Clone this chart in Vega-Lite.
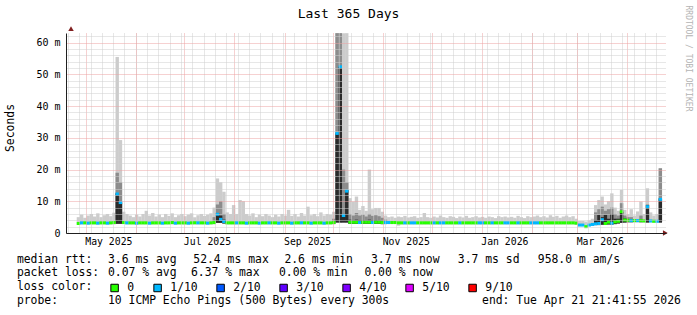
{
"$schema": "https://vega.github.io/schema/vega-lite/v6.json",
"width": 600, "height": 200,
"autosize": {"type": "none"},
"padding": {"left": 66, "top": 33, "right": 31, "bottom": 82},
"background": "white",
"config": {"view": {"stroke": null}, "font": "DejaVu Sans Mono"},
"data": {"values": [
{"t":"2025-04-26T12:00:00Z","lo":2.6,"p1":5.0,"med":3.0,"loss":"0"},
{"t":"2025-04-28T12:00:00Z","lo":2.7,"p1":5.8,"med":3.2,"loss":"1/10"},
{"t":"2025-04-30T12:00:00Z","lo":2.7,"p1":4.8,"med":3.2,"loss":"0"},
{"t":"2025-05-02T12:00:00Z","lo":2.7,"p1":5.5,"med":3.1,"loss":"1/10"},
{"t":"2025-05-04T12:00:00Z","lo":2.7,"p1":6.0,"med":3.2,"loss":"0"},
{"t":"2025-05-06T12:00:00Z","lo":2.7,"p1":5.2,"med":3.2,"loss":"0"},
{"t":"2025-05-08T12:00:00Z","lo":2.7,"p1":6.2,"med":3.1,"loss":"1/10"},
{"t":"2025-05-10T12:00:00Z","lo":2.7,"p1":5.0,"med":3.2,"loss":"0"},
{"t":"2025-05-12T12:00:00Z","lo":2.7,"p1":5.6,"med":3.2,"loss":"0"},
{"t":"2025-05-14T12:00:00Z","lo":2.7,"p1":6.0,"med":3.1,"loss":"1/10"},
{"t":"2025-05-16T12:00:00Z","lo":2.7,"p1":5.3,"med":3.2,"loss":"0"},
{"t":"2025-05-18T12:00:00Z","lo":2.7,"p1":6.4,"med":3.3,"loss":"0"},
{"t":"2025-05-20T12:00:00Z","lo":2.9,"p1":55.5,"p2":19,"p3":12.5,"med":12.3,"loss":"1/10"},
{"t":"2025-05-22T12:00:00Z","lo":2.9,"p1":29.3,"p2":16,"p3":9.6,"med":9.6,"loss":"1/10"},
{"t":"2025-05-24T12:00:00Z","lo":2.8,"p1":6.7,"med":3.3,"loss":"0"},
{"t":"2025-05-26T12:00:00Z","lo":2.7,"p1":6.0,"med":3.2,"loss":"1/10"},
{"t":"2025-05-28T12:00:00Z","lo":2.7,"p1":5.5,"med":3.2,"loss":"0"},
{"t":"2025-05-30T12:00:00Z","lo":2.7,"p1":5.0,"med":3.2,"loss":"0"},
{"t":"2025-06-01T12:00:00Z","lo":2.7,"p1":5.8,"med":3.1,"loss":"1/10"},
{"t":"2025-06-03T12:00:00Z","lo":2.7,"p1":5.2,"med":3.2,"loss":"0"},
{"t":"2025-06-05T12:00:00Z","lo":2.7,"p1":6.0,"med":3.2,"loss":"0"},
{"t":"2025-06-07T12:00:00Z","lo":2.7,"p1":7.0,"med":3.2,"loss":"0"},
{"t":"2025-06-09T12:00:00Z","lo":2.7,"p1":5.5,"med":3.1,"loss":"1/10"},
{"t":"2025-06-11T12:00:00Z","lo":2.7,"p1":6.3,"med":3.2,"loss":"0"},
{"t":"2025-06-13T12:00:00Z","lo":2.7,"p1":5.2,"med":3.2,"loss":"0"},
{"t":"2025-06-15T12:00:00Z","lo":2.7,"p1":5.8,"med":3.2,"loss":"0"},
{"t":"2025-06-17T12:00:00Z","lo":2.7,"p1":5.0,"med":3.1,"loss":"1/10"},
{"t":"2025-06-19T12:00:00Z","lo":2.7,"p1":6.0,"med":3.2,"loss":"0"},
{"t":"2025-06-21T12:00:00Z","lo":2.7,"p1":5.4,"med":3.2,"loss":"0"},
{"t":"2025-06-23T12:00:00Z","lo":2.7,"p1":6.2,"med":3.3,"loss":"0"},
{"t":"2025-06-25T12:00:00Z","lo":2.7,"p1":5.0,"med":3.1,"loss":"1/10"},
{"t":"2025-06-27T12:00:00Z","lo":2.7,"p1":5.6,"med":3.2,"loss":"0"},
{"t":"2025-06-29T12:00:00Z","lo":2.7,"p1":6.0,"med":3.2,"loss":"0"},
{"t":"2025-07-01T12:00:00Z","lo":2.7,"p1":5.3,"med":3.2,"loss":"0"},
{"t":"2025-07-03T12:00:00Z","lo":2.7,"p1":5.8,"med":3.1,"loss":"1/10"},
{"t":"2025-07-05T12:00:00Z","lo":2.7,"p1":6.2,"med":3.2,"loss":"0"},
{"t":"2025-07-07T12:00:00Z","lo":2.7,"p1":5.0,"med":3.2,"loss":"0"},
{"t":"2025-07-09T12:00:00Z","lo":2.7,"p1":5.6,"med":3.2,"loss":"1/10"},
{"t":"2025-07-11T12:00:00Z","lo":2.7,"p1":6.0,"med":3.2,"loss":"0"},
{"t":"2025-07-13T12:00:00Z","lo":2.7,"p1":5.4,"med":3.2,"loss":"0"},
{"t":"2025-07-15T12:00:00Z","lo":2.7,"p1":5.8,"med":3.1,"loss":"1/10"},
{"t":"2025-07-17T12:00:00Z","lo":2.7,"p1":6.2,"med":3.2,"loss":"0"},
{"t":"2025-07-19T12:00:00Z","lo":2.8,"p1":8.0,"p2":5.0,"med":3.3,"loss":"0"},
{"t":"2025-07-21T12:00:00Z","lo":3.2,"p1":17.2,"p2":9.0,"p3":6.3,"med":5.9,"loss":"1/10"},
{"t":"2025-07-23T12:00:00Z","lo":3.2,"p1":16.0,"p2":10.0,"p3":5.5,"med":4.3,"loss":"1/10"},
{"t":"2025-07-25T12:00:00Z","lo":3.0,"p1":13.0,"p2":6.0,"p3":4.2,"med":3.6,"loss":"1/10"},
{"t":"2025-07-27T12:00:00Z","lo":2.7,"p1":6.5,"med":3.2,"loss":"0"},
{"t":"2025-07-29T12:00:00Z","lo":2.7,"p1":6.0,"med":3.2,"loss":"0"},
{"t":"2025-07-31T12:00:00Z","lo":2.7,"p1":8.8,"med":3.2,"loss":"0"},
{"t":"2025-08-02T12:00:00Z","lo":2.7,"p1":6.0,"med":3.2,"loss":"1/10"},
{"t":"2025-08-04T12:00:00Z","lo":2.7,"p1":10.4,"med":3.2,"loss":"0"},
{"t":"2025-08-06T12:00:00Z","lo":2.7,"p1":10.0,"med":3.2,"loss":"0"},
{"t":"2025-08-08T12:00:00Z","lo":2.7,"p1":6.0,"med":3.1,"loss":"1/10"},
{"t":"2025-08-10T12:00:00Z","lo":2.7,"p1":5.5,"med":3.2,"loss":"0"},
{"t":"2025-08-12T12:00:00Z","lo":2.7,"p1":6.2,"med":3.2,"loss":"0"},
{"t":"2025-08-14T12:00:00Z","lo":2.7,"p1":5.0,"med":3.2,"loss":"0"},
{"t":"2025-08-16T12:00:00Z","lo":2.7,"p1":5.8,"med":3.1,"loss":"1/10"},
{"t":"2025-08-18T12:00:00Z","lo":2.7,"p1":5.3,"med":3.2,"loss":"0"},
{"t":"2025-08-20T12:00:00Z","lo":2.7,"p1":6.0,"med":3.2,"loss":"0"},
{"t":"2025-08-22T12:00:00Z","lo":2.7,"p1":5.5,"med":3.2,"loss":"1/10"},
{"t":"2025-08-24T12:00:00Z","lo":2.7,"p1":5.0,"med":3.2,"loss":"0"},
{"t":"2025-08-26T12:00:00Z","lo":2.7,"p1":5.8,"med":3.2,"loss":"0"},
{"t":"2025-08-28T12:00:00Z","lo":2.7,"p1":5.2,"med":3.1,"loss":"1/10"},
{"t":"2025-08-30T12:00:00Z","lo":2.7,"p1":6.0,"med":3.2,"loss":"0"},
{"t":"2025-09-01T12:00:00Z","lo":2.7,"p1":5.5,"med":3.2,"loss":"0"},
{"t":"2025-09-03T12:00:00Z","lo":2.7,"p1":7.3,"med":3.2,"loss":"0"},
{"t":"2025-09-05T12:00:00Z","lo":2.7,"p1":5.4,"med":3.1,"loss":"1/10"},
{"t":"2025-09-07T12:00:00Z","lo":2.7,"p1":6.0,"med":3.2,"loss":"0"},
{"t":"2025-09-09T12:00:00Z","lo":2.7,"p1":5.2,"med":3.2,"loss":"0"},
{"t":"2025-09-11T12:00:00Z","lo":2.7,"p1":6.3,"med":3.2,"loss":"1/10"},
{"t":"2025-09-13T12:00:00Z","lo":2.7,"p1":5.5,"med":3.2,"loss":"0"},
{"t":"2025-09-15T12:00:00Z","lo":2.7,"p1":8.3,"med":3.2,"loss":"0"},
{"t":"2025-09-17T12:00:00Z","lo":2.7,"p1":5.6,"med":3.1,"loss":"1/10"},
{"t":"2025-09-19T12:00:00Z","lo":2.7,"p1":6.0,"med":3.2,"loss":"0"},
{"t":"2025-09-21T12:00:00Z","lo":2.7,"p1":5.3,"med":3.2,"loss":"0"},
{"t":"2025-09-23T12:00:00Z","lo":2.7,"p1":6.5,"med":3.2,"loss":"0"},
{"t":"2025-09-25T12:00:00Z","lo":2.7,"p1":5.5,"med":3.1,"loss":"1/10"},
{"t":"2025-09-27T12:00:00Z","lo":2.7,"p1":6.0,"med":3.2,"loss":"0"},
{"t":"2025-09-29T12:00:00Z","lo":2.7,"p1":5.8,"med":3.2,"loss":"0"},
{"t":"2025-10-01T12:00:00Z","lo":2.8,"p1":6.7,"p2":4.5,"med":3.3,"loss":"0"},
{"t":"2025-10-03T12:00:00Z","lo":3.3,"p1":63,"p2":63,"p3":31.4,"med":31.4,"loss":"1/10"},
{"t":"2025-10-05T12:00:00Z","lo":3.3,"p1":63,"p2":63,"p3":52.4,"med":52.4,"loss":"1/10"},
{"t":"2025-10-07T12:00:00Z","lo":3.3,"p1":63,"p2":20,"p3":6.0,"med":5.5,"loss":"1/10"},
{"t":"2025-10-09T12:00:00Z","lo":3.3,"p1":63,"p2":16,"p3":13.5,"med":13.2,"loss":"1/10"},
{"t":"2025-10-11T12:00:00Z","lo":2.9,"p1":11.0,"p2":6.0,"p3":4.2,"med":3.4,"loss":"0"},
{"t":"2025-10-13T12:00:00Z","lo":2.9,"p1":9.9,"p2":5.5,"p3":4.0,"med":3.4,"loss":"0"},
{"t":"2025-10-15T12:00:00Z","lo":2.9,"p1":11.5,"p2":6.3,"p3":4.2,"med":3.4,"loss":"0"},
{"t":"2025-10-17T12:00:00Z","lo":2.9,"p1":7.3,"p2":5.5,"p3":4.0,"med":3.3,"loss":"1/10"},
{"t":"2025-10-19T12:00:00Z","lo":2.9,"p1":8.5,"p2":5.8,"p3":4.1,"med":3.4,"loss":"0"},
{"t":"2025-10-21T12:00:00Z","lo":2.9,"p1":7.0,"p2":5.2,"p3":4.0,"med":3.4,"loss":"0"},
{"t":"2025-10-23T12:00:00Z","lo":2.9,"p1":20.0,"p2":6.0,"p3":4.2,"med":3.4,"loss":"0"},
{"t":"2025-10-25T12:00:00Z","lo":2.9,"p1":7.5,"p2":5.4,"p3":4.0,"med":3.3,"loss":"1/10"},
{"t":"2025-10-27T12:00:00Z","lo":2.9,"p1":7.9,"p2":5.6,"p3":4.1,"med":3.4,"loss":"0"},
{"t":"2025-10-29T12:00:00Z","lo":2.9,"p1":7.9,"p2":5.3,"p3":4.0,"med":3.4,"loss":"0"},
{"t":"2025-10-31T12:00:00Z","lo":2.8,"p1":6.7,"p2":4.8,"p3":3.9,"med":3.3,"loss":"0"},
{"t":"2025-11-02T12:00:00Z","lo":2.8,"p1":5.5,"p2":4.2,"med":3.3,"loss":"1/10"},
{"t":"2025-11-04T12:00:00Z","lo":2.8,"p1":5.0,"med":3.3,"loss":"1/10"},
{"t":"2025-11-06T12:00:00Z","lo":2.8,"p1":5.2,"med":3.3,"loss":"0"},
{"t":"2025-11-08T12:00:00Z","lo":2.8,"p1":4.8,"med":3.3,"loss":"0"},
{"t":"2025-11-10T12:00:00Z","lo":2.3,"p1":5.2,"med":3.2,"loss":"0"},
{"t":"2025-11-12T12:00:00Z","lo":2.7,"p1":5.0,"med":3.2,"loss":"0"},
{"t":"2025-11-14T12:00:00Z","lo":2.7,"p1":5.4,"med":3.2,"loss":"1/10"},
{"t":"2025-11-16T12:00:00Z","lo":2.7,"p1":4.9,"med":3.2,"loss":"0"},
{"t":"2025-11-18T12:00:00Z","lo":2.7,"p1":5.1,"med":3.2,"loss":"1/10"},
{"t":"2025-11-20T12:00:00Z","lo":2.7,"p1":5.3,"med":3.2,"loss":"1/10"},
{"t":"2025-11-22T12:00:00Z","lo":2.7,"p1":4.8,"med":3.2,"loss":"0"},
{"t":"2025-11-24T12:00:00Z","lo":2.7,"p1":5.0,"med":3.2,"loss":"0"},
{"t":"2025-11-26T12:00:00Z","lo":2.7,"p1":6.3,"med":3.2,"loss":"0"},
{"t":"2025-11-28T12:00:00Z","lo":2.7,"p1":5.0,"med":3.2,"loss":"0"},
{"t":"2025-11-30T12:00:00Z","lo":2.7,"p1":4.8,"med":3.2,"loss":"0"},
{"t":"2025-12-02T12:00:00Z","lo":2.7,"p1":5.2,"med":3.2,"loss":"1/10"},
{"t":"2025-12-04T12:00:00Z","lo":2.7,"p1":4.9,"med":3.2,"loss":"0"},
{"t":"2025-12-06T12:00:00Z","lo":2.7,"p1":5.5,"med":3.2,"loss":"1/10"},
{"t":"2025-12-08T12:00:00Z","lo":2.7,"p1":5.0,"med":3.2,"loss":"1/10"},
{"t":"2025-12-10T12:00:00Z","lo":2.7,"p1":4.8,"med":3.2,"loss":"0"},
{"t":"2025-12-12T12:00:00Z","lo":2.7,"p1":5.3,"med":3.2,"loss":"0"},
{"t":"2025-12-14T12:00:00Z","lo":2.7,"p1":5.1,"med":3.2,"loss":"0"},
{"t":"2025-12-16T12:00:00Z","lo":2.7,"p1":4.7,"med":3.2,"loss":"0"},
{"t":"2025-12-18T12:00:00Z","lo":2.7,"p1":5.2,"med":3.2,"loss":"1/10"},
{"t":"2025-12-20T12:00:00Z","lo":2.7,"p1":4.9,"med":3.2,"loss":"0"},
{"t":"2025-12-22T12:00:00Z","lo":2.7,"p1":5.4,"med":3.2,"loss":"0"},
{"t":"2025-12-24T12:00:00Z","lo":2.7,"p1":4.8,"med":3.2,"loss":"0"},
{"t":"2025-12-26T12:00:00Z","lo":2.7,"p1":5.0,"med":3.2,"loss":"0"},
{"t":"2025-12-28T12:00:00Z","lo":2.7,"p1":5.3,"med":3.2,"loss":"0"},
{"t":"2025-12-30T12:00:00Z","lo":2.7,"p1":4.9,"med":3.2,"loss":"1/10"},
{"t":"2026-01-01T12:00:00Z","lo":2.7,"p1":5.1,"med":3.2,"loss":"1/10"},
{"t":"2026-01-03T12:00:00Z","lo":2.7,"p1":4.8,"med":3.2,"loss":"0"},
{"t":"2026-01-05T12:00:00Z","lo":2.7,"p1":5.2,"med":3.2,"loss":"0"},
{"t":"2026-01-07T12:00:00Z","lo":2.7,"p1":5.0,"med":3.2,"loss":"1/10"},
{"t":"2026-01-09T12:00:00Z","lo":2.7,"p1":4.7,"med":3.2,"loss":"0"},
{"t":"2026-01-11T12:00:00Z","lo":2.7,"p1":5.3,"med":3.2,"loss":"0"},
{"t":"2026-01-13T12:00:00Z","lo":2.7,"p1":5.0,"med":3.2,"loss":"0"},
{"t":"2026-01-15T12:00:00Z","lo":2.7,"p1":5.2,"med":3.2,"loss":"1/10"},
{"t":"2026-01-17T12:00:00Z","lo":2.7,"p1":4.9,"med":3.2,"loss":"1/10"},
{"t":"2026-01-19T12:00:00Z","lo":2.7,"p1":5.1,"med":3.2,"loss":"0"},
{"t":"2026-01-21T12:00:00Z","lo":2.7,"p1":4.8,"med":3.2,"loss":"0"},
{"t":"2026-01-23T12:00:00Z","lo":2.7,"p1":5.4,"med":3.2,"loss":"1/10"},
{"t":"2026-01-25T12:00:00Z","lo":2.7,"p1":5.0,"med":3.2,"loss":"0"},
{"t":"2026-01-27T12:00:00Z","lo":2.7,"p1":4.7,"med":3.2,"loss":"0"},
{"t":"2026-01-29T12:00:00Z","lo":2.7,"p1":5.3,"med":3.2,"loss":"0"},
{"t":"2026-01-31T12:00:00Z","lo":2.7,"p1":5.0,"med":3.2,"loss":"1/10"},
{"t":"2026-02-02T12:00:00Z","lo":2.7,"p1":5.2,"med":3.2,"loss":"1/10"},
{"t":"2026-02-04T12:00:00Z","lo":2.7,"p1":5.5,"med":3.2,"loss":"1/10"},
{"t":"2026-02-06T12:00:00Z","lo":2.7,"p1":5.0,"med":3.2,"loss":"0"},
{"t":"2026-02-08T12:00:00Z","lo":2.7,"p1":5.3,"med":3.2,"loss":"0"},
{"t":"2026-02-10T12:00:00Z","lo":2.7,"p1":4.9,"med":3.2,"loss":"0"},
{"t":"2026-02-12T12:00:00Z","lo":2.7,"p1":5.6,"med":3.2,"loss":"0"},
{"t":"2026-02-14T12:00:00Z","lo":2.7,"p1":5.1,"med":3.2,"loss":"0"},
{"t":"2026-02-16T12:00:00Z","lo":2.7,"p1":5.4,"med":3.2,"loss":"0"},
{"t":"2026-02-18T12:00:00Z","lo":2.7,"p1":4.8,"med":3.2,"loss":"0"},
{"t":"2026-02-20T12:00:00Z","lo":2.7,"p1":5.2,"med":3.2,"loss":"0"},
{"t":"2026-02-22T12:00:00Z","lo":2.7,"p1":5.5,"med":3.2,"loss":"0"},
{"t":"2026-02-24T12:00:00Z","lo":2.7,"p1":5.0,"med":3.2,"loss":"0"},
{"t":"2026-02-26T12:00:00Z","lo":2.7,"p1":5.3,"med":3.2,"loss":"0"},
{"t":"2026-02-28T12:00:00Z","lo":2.6,"p1":4.5,"med":3.1,"loss":"0"},
{"t":"2026-03-02T12:00:00Z","lo":2.3,"p1":3.8,"med":2.5,"loss":"1/10"},
{"t":"2026-03-04T12:00:00Z","lo":2.2,"p1":3.8,"med":2.5,"loss":"1/10"},
{"t":"2026-03-06T12:00:00Z","lo":2.0,"p1":3.6,"med":2.0,"loss":"0"},
{"t":"2026-03-08T12:00:00Z","lo":2.2,"p1":4.0,"med":2.5,"loss":"1/10"},
{"t":"2026-03-10T12:00:00Z","lo":2.3,"p1":4.5,"med":2.7,"loss":"1/10"},
{"t":"2026-03-12T12:00:00Z","lo":2.5,"p1":8.8,"p2":6.5,"p3":4.0,"med":2.9,"loss":"1/10"},
{"t":"2026-03-14T12:00:00Z","lo":2.5,"p1":10.4,"p2":7.5,"p3":5.7,"med":3.0,"loss":"1/10"},
{"t":"2026-03-16T12:00:00Z","lo":2.6,"p1":11.5,"p2":8.3,"p3":5.0,"med":4.2,"loss":"1/10"},
{"t":"2026-03-18T12:00:00Z","lo":2.6,"p1":9.0,"p2":7.0,"p3":5.7,"med":3.0,"loss":"0"},
{"t":"2026-03-20T12:00:00Z","lo":2.7,"p1":10.0,"p2":7.5,"p3":4.5,"med":3.4,"loss":"0"},
{"t":"2026-03-22T12:00:00Z","lo":2.7,"p1":12.5,"p2":8.0,"p3":6.0,"med":3.1,"loss":"1/10"},
{"t":"2026-03-24T12:00:00Z","lo":2.8,"p1":8.0,"p2":6.0,"p3":4.5,"med":3.5,"loss":"0"},
{"t":"2026-03-26T12:00:00Z","lo":3.0,"p1":7.0,"p2":5.5,"p3":4.5,"med":3.7,"loss":"0"},
{"t":"2026-03-28T12:00:00Z","lo":3.2,"p1":13.6,"p2":9.4,"p3":6.7,"med":6.7,"loss":"0"},
{"t":"2026-03-30T12:00:00Z","lo":3.3,"p1":7.3,"p2":5.5,"p3":4.6,"med":4.1,"loss":"0"},
{"t":"2026-04-01T12:00:00Z","lo":3.3,"p1":6.0,"p2":5.0,"med":4.0,"loss":"0"},
{"t":"2026-04-03T12:00:00Z","lo":3.3,"p1":7.5,"p2":5.0,"med":3.9,"loss":"1/10"},
{"t":"2026-04-05T12:00:00Z","lo":3.3,"p1":5.5,"med":3.9,"loss":"0"},
{"t":"2026-04-07T12:00:00Z","lo":3.3,"p1":6.8,"med":3.9,"loss":"1/10"},
{"t":"2026-04-09T12:00:00Z","lo":3.3,"p1":9.9,"p2":5.5,"med":3.9,"loss":"0"},
{"t":"2026-04-11T12:00:00Z","lo":3.3,"p1":6.0,"med":3.8,"loss":"0"},
{"t":"2026-04-13T12:00:00Z","lo":3.3,"p1":14.1,"p2":9.0,"p3":8.8,"med":8.3,"loss":"1/10"},
{"t":"2026-04-15T12:00:00Z","lo":3.3,"p1":6.5,"med":3.8,"loss":"1/10"},
{"t":"2026-04-17T12:00:00Z","lo":3.3,"p1":5.5,"med":3.7,"loss":"0"},
{"t":"2026-04-19T12:00:00Z","lo":3.3,"p1":6.0,"med":3.7,"loss":"1/10"},
{"t":"2026-04-21T12:00:00Z","lo":3.3,"p1":20.4,"p2":20.4,"p3":10.9,"med":10.6,"loss":"1/10"}
]},
"layer": [
{
 "mark": {"type": "bar", "width": 3.4, "color": "#cccccc", "clip": true},
 "encoding": {
  "x": {"field": "t", "type": "temporal",
   "scale": {"type": "utc", "domain": [{"year": 2025, "month": 4, "date": 21, "hours": 21, "minutes": 41, "seconds": 55, "utc": true}, {"year": 2026, "month": 4, "date": 21, "hours": 21, "minutes": 41, "seconds": 55, "utc": true}]},
   "axis": {"orient": "bottom", "tickCount": {"interval": "week", "step": 1}, "grid": true, "gridColor": "#cfcfcf", "gridOpacity": 1, "gridDash": [1, 1], "gridWidth": 1, "labels": false, "ticks": false, "domain": false, "title": null, "zindex": 1}},
  "y": {"field": "p1", "type": "quantitative", "scale": {"domain": [0, 63.05], "nice": false, "zero": true},
   "axis": {"orient": "left", "values": [2,4,6,8,12,14,16,18,22,24,26,28,32,34,36,38,42,44,46,48,52,54,56,58,62], "grid": true, "gridColor": "#cfcfcf", "gridOpacity": 1, "gridDash": [1, 1], "labels": false, "ticks": false, "domain": false, "title": null, "zindex": 1}},
  "y2": {"field": "lo"}
 }
},
{
 "mark": {"type": "bar", "width": 3.4, "color": "#8c8c8c", "clip": true},
 "encoding": {
  "x": {"field": "t", "type": "temporal",
   "scale": {"type": "utc", "domain": [{"year": 2025, "month": 4, "date": 21, "hours": 21, "minutes": 41, "seconds": 55, "utc": true}, {"year": 2026, "month": 4, "date": 21, "hours": 21, "minutes": 41, "seconds": 55, "utc": true}]},
   "axis": {"orient": "bottom", "tickCount": {"interval": "month", "step": 1}, "grid": true, "gridColor": "#eca3a3", "gridOpacity": 1, "gridDash": [1, 1], "gridWidth": 1, "labels": false, "ticks": false, "domain": false, "title": null, "zindex": 1}},
  "y": {"field": "p2", "type": "quantitative", "scale": {"domain": [0, 63.05], "nice": false, "zero": true},
   "axis": {"orient": "left", "values": [0, 10, 20, 30, 40, 50, 60], "grid": true, "gridColor": "#eca3a3", "gridOpacity": 1, "gridDash": [1, 1], "labels": true, "labelExpr": "datum.value == 0 ? '0\u00a0\u00a0' : datum.value + ' m'", "labelFont": "DejaVu Sans Mono", "labelFontSize": 10, "labelColor": "#000000", "labelPadding": 6, "ticks": false, "domain": false, "title": null, "zindex": 1}},
  "y2": {"field": "lo"}
 }
},
{
 "mark": {"type": "bar", "width": 3.4, "color": "#2a2a2a", "clip": true},
 "encoding": {
  "x": {"field": "t", "type": "temporal",
   "scale": {"type": "utc", "domain": [{"year": 2025, "month": 4, "date": 21, "hours": 21, "minutes": 41, "seconds": 55, "utc": true}, {"year": 2026, "month": 4, "date": 21, "hours": 21, "minutes": 41, "seconds": 55, "utc": true}]},
   "axis": {"orient": "bottom", "values": [{"year": 2025, "month": 5, "date": 15, "utc": true}, {"year": 2025, "month": 7, "date": 15, "utc": true}, {"year": 2025, "month": 9, "date": 15, "utc": true}, {"year": 2025, "month": 11, "date": 15, "utc": true}, {"year": 2026, "month": 1, "date": 15, "utc": true}, {"year": 2026, "month": 3, "date": 15, "utc": true}],
    "labelExpr": "utcFormat(datum.value, '%b %Y')", "labelFont": "DejaVu Sans Mono", "labelFontSize": 9.8, "labelColor": "#000000", "labelPadding": 3, "labelFlush": false, "labelOverlap": false, "ticks": false, "grid": false, "domain": true, "domainColor": "#1f1f1f", "domainWidth": 1, "title": null, "zindex": 2}},
  "y": {"field": "p3", "type": "quantitative", "scale": {"domain": [0, 63.05], "nice": false, "zero": true},
   "axis": {"orient": "left", "labels": false, "ticks": false, "grid": false, "domain": true, "domainColor": "#1f1f1f", "domainWidth": 1, "title": null, "zindex": 2}},
  "y2": {"field": "lo"}
 }
},
{
 "mark": {"type": "tick", "orient": "horizontal", "size": 3.4, "thickness": 3, "opacity": 1, "clip": true},
 "encoding": {
  "x": {"field": "t", "type": "temporal", "axis": null},
  "y": {"field": "med", "type": "quantitative", "axis": null},
  "color": {"field": "loss", "type": "nominal",
   "scale": {"domain": ["0", "1/10", "2/10", "3/10", "4/10", "5/10", "9/10"], "range": ["#26ff00", "#00b8ff", "#0059ff", "#5e00ff", "#7e00ff", "#dd00ff", "#ff0000"]},
   "legend": {"orient": "none", "legendX": 42.9, "legendY": 249, "direction": "horizontal", "title": null, "labelFont": "DejaVu Sans Mono", "labelFontSize": 11.4, "labelColor": "#000000", "labelOffset": 7, "columnPadding": 16, "symbolType": "square", "symbolSize": 56, "symbolStrokeColor": "#000000", "symbolStrokeWidth": 1, "symbolOpacity": 1, "padding": 0, "offset": 0}}
 }
},
{
 "data": {"values": [{}]},
 "mark": {"type": "point", "shape": "triangle-up", "filled": true, "color": "#801f1f", "size": 30, "opacity": 1, "clip": false},
 "encoding": {
  "x": {"datum": {"year": 2025, "month": 4, "date": 21, "hours": 21, "minutes": 41, "seconds": 55, "utc": true}, "type": "temporal", "axis": null},
  "y": {"datum": 64.4, "type": "quantitative", "axis": null}
 }
},
{
 "data": {"values": [{}]},
 "mark": {"type": "point", "shape": "triangle-right", "filled": true, "color": "#801f1f", "size": 30, "opacity": 1, "clip": false},
 "encoding": {
  "x": {"datum": {"year": 2026, "month": 4, "date": 24, "hours": 14, "utc": true}, "type": "temporal", "axis": null},
  "y": {"datum": 0, "type": "quantitative", "axis": null}
 }
},
{"data": {"values": [{}]}, "mark": {"type": "text", "font": "DejaVu Sans Mono", "fontSize": 13, "align": "center", "baseline": "alphabetic", "color": "#000000"}, "encoding": {"x": {"value": 282.5}, "y": {"value": -14.7}, "text": {"value": "Last 365 Days"}}},
{"data": {"values": [{}]}, "mark": {"type": "text", "font": "DejaVu Sans Mono", "fontSize": 11.4, "align": "center", "baseline": "middle", "angle": 270, "color": "#000000"}, "encoding": {"x": {"value": -55}, "y": {"value": 95}, "text": {"value": "Seconds"}}},
{"data": {"values": [{}]}, "mark": {"type": "text", "font": "DejaVu Sans Mono", "fontSize": 8, "align": "center", "baseline": "middle", "angle": 90, "color": "#b4b4b4"}, "encoding": {"x": {"value": 621.7}, "y": {"value": 25.5}, "text": {"value": "RRDTOOL / TOBI OETIKER"}}},
{"data": {"values": [{}]}, "mark": {"type": "text", "font": "DejaVu Sans Mono", "fontSize": 11.4, "align": "left", "baseline": "middle", "color": "#000000"}, "encoding": {"x": {"value": -49.1}, "y": {"value": 226.5}, "text": {"value": "median rtt:"}}},
{"data": {"values": [{}]}, "mark": {"type": "text", "font": "DejaVu Sans Mono", "fontSize": 11.4, "align": "left", "baseline": "middle", "color": "#000000"}, "encoding": {"x": {"value": 42}, "y": {"value": 226.5}, "text": {"value": "3.6 ms avg"}}},
{"data": {"values": [{}]}, "mark": {"type": "text", "font": "DejaVu Sans Mono", "fontSize": 11.4, "align": "left", "baseline": "middle", "color": "#000000"}, "encoding": {"x": {"value": 127.3}, "y": {"value": 226.5}, "text": {"value": "52.4 ms max"}}},
{"data": {"values": [{}]}, "mark": {"type": "text", "font": "DejaVu Sans Mono", "fontSize": 11.4, "align": "left", "baseline": "middle", "color": "#000000"}, "encoding": {"x": {"value": 218.4}, "y": {"value": 226.5}, "text": {"value": "2.6 ms min"}}},
{"data": {"values": [{}]}, "mark": {"type": "text", "font": "DejaVu Sans Mono", "fontSize": 11.4, "align": "left", "baseline": "middle", "color": "#000000"}, "encoding": {"x": {"value": 305}, "y": {"value": 226.5}, "text": {"value": "3.7 ms now"}}},
{"data": {"values": [{}]}, "mark": {"type": "text", "font": "DejaVu Sans Mono", "fontSize": 11.4, "align": "left", "baseline": "middle", "color": "#000000"}, "encoding": {"x": {"value": 391.8}, "y": {"value": 226.5}, "text": {"value": "3.7 ms sd"}}},
{"data": {"values": [{}]}, "mark": {"type": "text", "font": "DejaVu Sans Mono", "fontSize": 11.4, "align": "left", "baseline": "middle", "color": "#000000"}, "encoding": {"x": {"value": 471.8}, "y": {"value": 226.5}, "text": {"value": "958.0 m am/s"}}},
{"data": {"values": [{}]}, "mark": {"type": "text", "font": "DejaVu Sans Mono", "fontSize": 11.4, "align": "left", "baseline": "middle", "color": "#000000"}, "encoding": {"x": {"value": -49.1}, "y": {"value": 240}, "text": {"value": "packet loss:"}}},
{"data": {"values": [{}]}, "mark": {"type": "text", "font": "DejaVu Sans Mono", "fontSize": 11.4, "align": "left", "baseline": "middle", "color": "#000000"}, "encoding": {"x": {"value": 42}, "y": {"value": 240}, "text": {"value": "0.07 % avg"}}},
{"data": {"values": [{}]}, "mark": {"type": "text", "font": "DejaVu Sans Mono", "fontSize": 11.4, "align": "left", "baseline": "middle", "color": "#000000"}, "encoding": {"x": {"value": 125}, "y": {"value": 240}, "text": {"value": "6.37 % max"}}},
{"data": {"values": [{}]}, "mark": {"type": "text", "font": "DejaVu Sans Mono", "fontSize": 11.4, "align": "left", "baseline": "middle", "color": "#000000"}, "encoding": {"x": {"value": 213}, "y": {"value": 240}, "text": {"value": "0.00 % min"}}},
{"data": {"values": [{}]}, "mark": {"type": "text", "font": "DejaVu Sans Mono", "fontSize": 11.4, "align": "left", "baseline": "middle", "color": "#000000"}, "encoding": {"x": {"value": 298.4}, "y": {"value": 240}, "text": {"value": "0.00 % now"}}},
{"data": {"values": [{}]}, "mark": {"type": "text", "font": "DejaVu Sans Mono", "fontSize": 11.4, "align": "left", "baseline": "middle", "color": "#000000"}, "encoding": {"x": {"value": -49.1}, "y": {"value": 254}, "text": {"value": "loss color:"}}},
{"data": {"values": [{}]}, "mark": {"type": "text", "font": "DejaVu Sans Mono", "fontSize": 11.4, "align": "left", "baseline": "middle", "color": "#000000"}, "encoding": {"x": {"value": -49.1}, "y": {"value": 267.5}, "text": {"value": "probe:"}}},
{"data": {"values": [{}]}, "mark": {"type": "text", "font": "DejaVu Sans Mono", "fontSize": 11.4, "align": "left", "baseline": "middle", "color": "#000000"}, "encoding": {"x": {"value": 42}, "y": {"value": 267.5}, "text": {"value": "10 ICMP Echo Pings (500 Bytes) every 300s"}}},
{"data": {"values": [{}]}, "mark": {"type": "text", "font": "DejaVu Sans Mono", "fontSize": 11.4, "align": "right", "baseline": "middle", "color": "#000000"}, "encoding": {"x": {"value": 614.9}, "y": {"value": 267.5}, "text": {"value": "end: Tue Apr 21 21:41:55 2026"}}}
],
"resolve": {"axis": {"x": "independent", "y": "independent"}}
}
